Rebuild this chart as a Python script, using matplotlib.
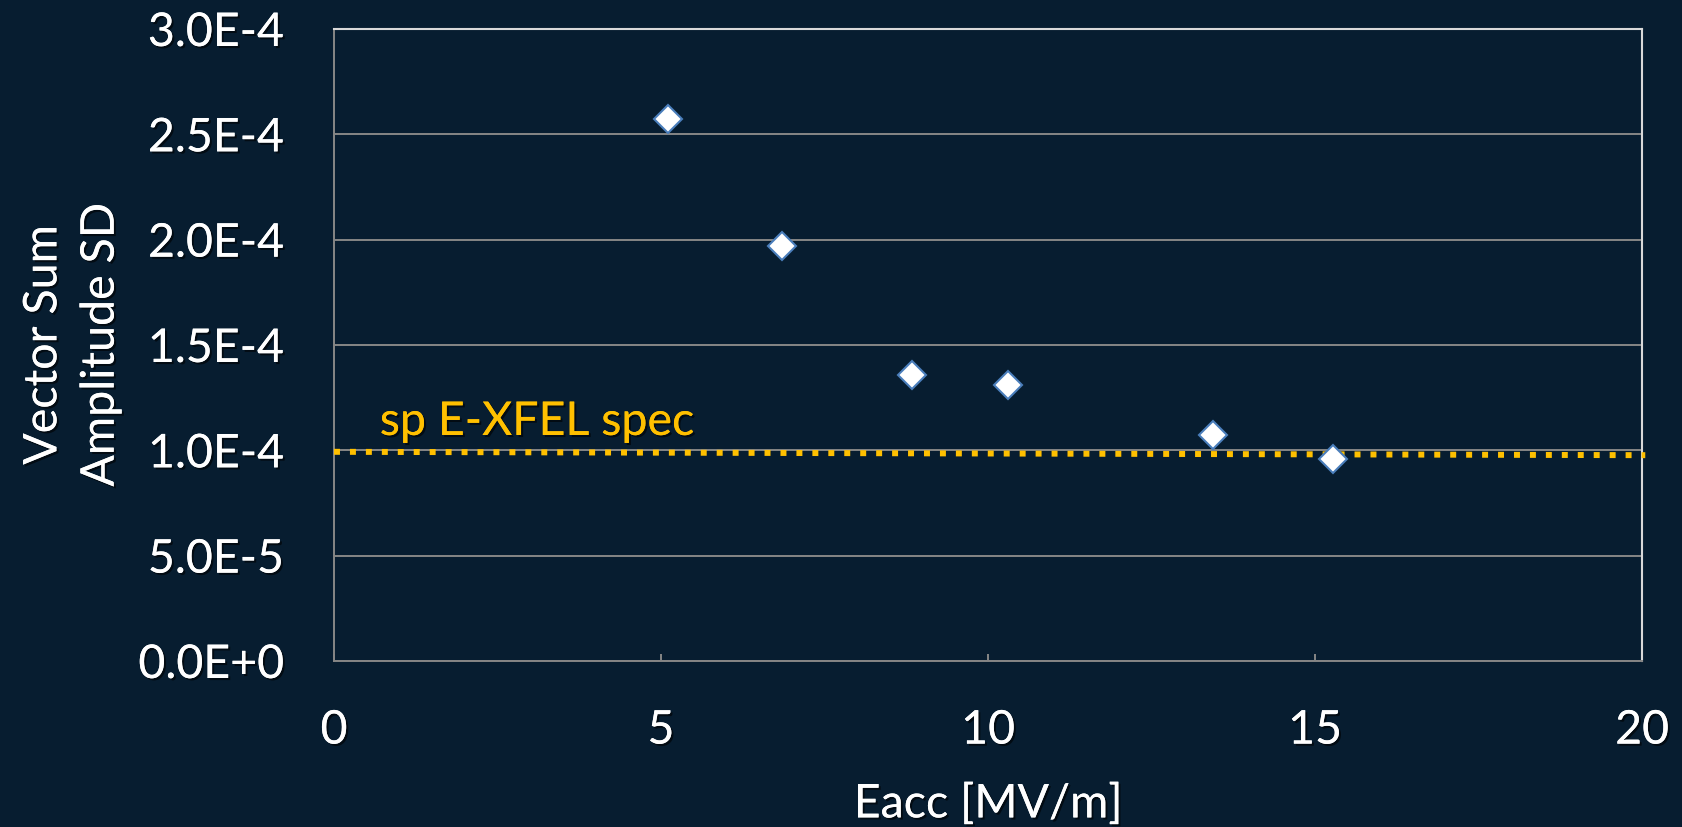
import matplotlib.pyplot as plt
import matplotlib.patheffects as pe
import numpy as np

# data
eacc = [5.11, 6.85, 8.84, 10.30, 13.44, 15.27]
amp_sd = [2.573e-4, 1.971e-4, 1.359e-4, 1.309e-4, 1.074e-4, 0.960e-4]
spec_x = [0.0, 20.05]
spec_y = [0.993e-4, 0.977e-4]
xticks = [0, 5, 10, 15, 20]
yticks = [0, 0.5e-4, 1.0e-4, 1.5e-4, 2.0e-4, 2.5e-4, 3.0e-4]
ytick_labels = ['0.0E+0', '5.0E-5', '1.0E-4', '1.5E-4', '2.0E-4', '2.5E-4', '3.0E-4']

bg = '#071d30'
fs = 33.5
shadow = [pe.withSimplePatchShadow(offset=(1.5, -1.5), shadow_rgbFace='black', alpha=0.6), pe.Normal()]

plt.rcParams['font.family'] = ['Lato', 'DejaVu Sans']

fig = plt.figure(figsize=(16.83, 8.27), dpi=100, facecolor=bg)
ax = fig.add_axes([334/1683, 1-661/827, 1308/1683, 632/827], facecolor=bg)

ax.set_xlim(0, 20)
ax.set_ylim(0, 3e-4)
ax.set_yticks(yticks)
ax.set_yticklabels(ytick_labels)
ax.set_xticks(xticks)
ax.grid(axis='y', color='#868686', lw=1.4)
ax.set_axisbelow(True)

for s in ['left', 'bottom']:
	ax.spines[s].set_color('#868686')
	ax.spines[s].set_linewidth(1.4)
for s in ['top', 'right']:
	ax.spines[s].set_color('#d9d9d9')
	ax.spines[s].set_linewidth(1.5)

ax.tick_params(axis='x', direction='in', length=5, width=1.4, color='#868686', labelsize=fs, labelcolor='white', pad=35)
ax.tick_params(axis='y', length=0, labelsize=fs, labelcolor='white', pad=36)
for t in ax.get_xticklabels() + ax.get_yticklabels():
	t.set_path_effects(shadow)

ln, = ax.plot(spec_x, spec_y, color='#ffc000', lw=4.3, linestyle=(0, (1, 1.67)), solid_capstyle='butt', dash_capstyle='butt', clip_on=False, zorder=3)
ax.plot(eacc, amp_sd, linestyle='none', marker='D', markersize=14.5, markerfacecolor='white', markeredgecolor='#4a7ebb', markeredgewidth=1.5, zorder=4)

ax.text(0.7, 1.073e-4, 'sp E-XFEL spec', color='#ffc000', fontsize=fs, va='baseline', path_effects=shadow)

ax.set_xlabel('Eacc [MV/m]', color='white', fontsize=fs, labelpad=22, path_effects=shadow)
ax.set_ylabel('Vector Sum\nAmplitude SD', color='white', fontsize=fs, labelpad=12, linespacing=1.45, path_effects=shadow)

fig.savefig('out.png', dpi=100, facecolor=bg)
